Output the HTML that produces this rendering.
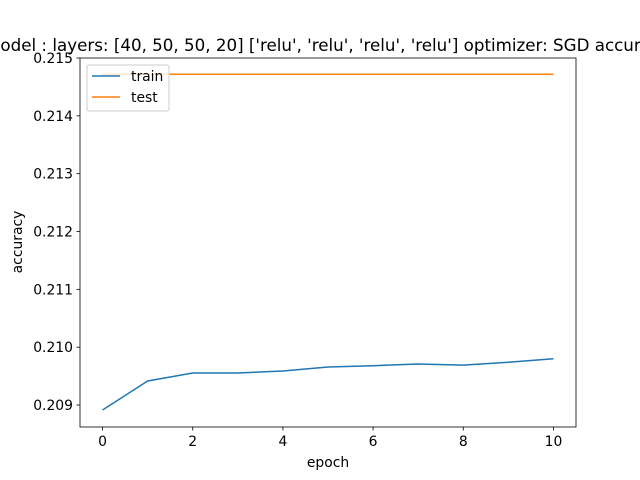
<!DOCTYPE html>
<html><head><meta charset="utf-8"><style>
body{margin:0;background:#fff;width:640px;height:480px;overflow:hidden}
svg{display:block;font-family:"DejaVu Sans","Liberation Sans",sans-serif}
</style></head><body>
<svg id="chart" width="640" height="480"></svg>
<script>
const epochs=[0,1,2,3,4,5,6,7,8,9,10];
const trainAcc=[0.208914,0.209415,0.209553,0.209553,0.209588,0.209657,0.20968,0.20971,0.20969,0.20974,0.20980];
const testAcc=[0.21472,0.21472,0.21472,0.21472,0.21472,0.21472,0.21472,0.21472,0.21472,0.21472,0.21472];
const xTicks=[0,2,4,6,8,10];
const yTicks=[0.209,0.210,0.211,0.212,0.213,0.214,0.215];
const L=80,R=576,T=58,B=427;
const xMin=-0.5,xMax=10.5,yMin=0.20862,yMax=0.215;
const sx=v=>L+(v-xMin)/(xMax-xMin)*(R-L);
const sy=v=>B-(v-yMin)/(yMax-yMin)*(B-T);
const NS="http://www.w3.org/2000/svg";
const svg=document.getElementById('chart');
function mk(t,a,p){const e=document.createElementNS(NS,t);for(const k in a)e.setAttribute(k,a[k]);(p||svg).appendChild(e);return e;}
const title=mk('text',{x:328,y:51,'text-anchor':'middle','font-size':16.7});
title.textContent="Model : layers: [40, 50, 50, 20] ['relu', 'relu', 'relu', 'relu'] optimizer: SGD accuracy";


function line(vals,color,name){
  const pts=epochs.map((e,i)=>sx(e)+','+sy(vals[i])).join(' ');
  const p=mk('polyline',{points:pts,fill:'none',stroke:color,'stroke-width':1.5});
  
  
}
line(trainAcc,'#1f77b4','train-line');
line(testAcc,'#ff7f0e','test-line');
const frame=mk('rect',{x:L,y:T,width:R-L,height:B-T,fill:'none',stroke:'#000','stroke-width':0.8});


xTicks.forEach(t=>{
  const x=sx(t);
  mk('line',{x1:x,x2:x,y1:B,y2:B+3.5,stroke:'#000','stroke-width':0.8});
  const tx=mk('text',{x:x,y:B+19,'text-anchor':'middle','font-size':13.9});
  tx.textContent=t;
  
  
});
yTicks.forEach(t=>{
  const y=sy(t);
  mk('line',{x1:L-3.5,x2:L,y1:y,y2:y,stroke:'#000','stroke-width':0.8});
  const tx=mk('text',{x:L-7,y:y+5,'text-anchor':'end','font-size':13.9});
  tx.textContent=t.toFixed(3);
  
  
});
const xl=mk('text',{x:328,y:467,'text-anchor':'middle','font-size':13.9});
xl.textContent='epoch';


const yl=mk('text',{x:22,y:242,'text-anchor':'middle','font-size':13.9,transform:'rotate(-90 22 242)'});
yl.textContent='accuracy';


const lg=mk('g',{});


mk('rect',{x:87,y:65,width:82,height:46,rx:2,fill:'#fff','fill-opacity':0.8,stroke:'#ccc'},lg);
[['train','#1f77b4',76],['test','#ff7f0e',97]].forEach(([n,c,y])=>{
  mk('line',{x1:92,x2:120,y1:y,y2:y,stroke:c,'stroke-width':1.5},lg);
  const t=mk('text',{x:131,y:y+5,'font-size':13.9},lg);
  t.textContent=n;
  
  
});
</script>
</body></html>
